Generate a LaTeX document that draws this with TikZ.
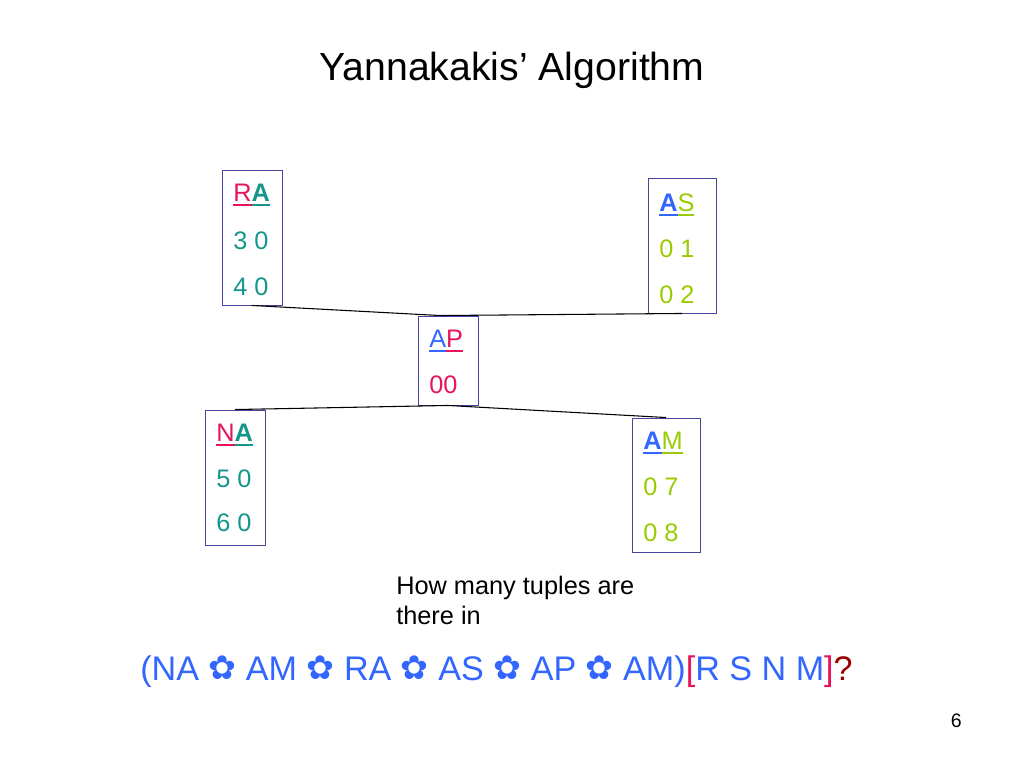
\documentclass[tikz,border=0pt]{standalone}
\usepackage{fontspec}
\setmainfont{Liberation Sans}
\newfontfamily\symfont{DejaVu Sans}
\usetikzlibrary{calc}
\newsavebox\ulbox
\newcommand\myul[1]{\sbox\ulbox{#1}\rlap{\rule[-3.5pt]{\wd\ulbox}{1.4pt}}\usebox\ulbox}
\definecolor{cpink}{RGB}{230,20,90}
\definecolor{cteal}{RGB}{20,150,140}
\definecolor{cblue}{RGB}{51,102,255}
\definecolor{cgreen}{RGB}{153,204,0}
\definecolor{cdred}{RGB}{153,0,0}
\definecolor{cbox}{RGB}{70,70,160}
\newcommand\jn{\raisebox{0.5pt}{\symfont\fontsize{25}{28}\selectfont ✿}}
\tikzset{
  relbox/.style={draw=cbox, line width=0.7pt, rectangle, inner sep=0pt},
  txt/.style={anchor=base west, inner sep=0pt, font=\fontsize{19}{23}\selectfont},
  edge/.style={draw=black, line width=0.8pt}
}
\begin{document}
\begin{tikzpicture}[x=0.75pt,y=-0.75pt]
\path[use as bounding box] (0,0) rectangle (1024,768);
% title
\node[anchor=base, inner sep=0pt, font=\fontsize{29.4}{35}\selectfont] (title) at (512,80) {Yannakakis’ Algorithm};
% boxes
\node[relbox, minimum width=60*0.75pt, minimum height=135*0.75pt] (ra) at (252,237.5) {};
\node[relbox, minimum width=68*0.75pt, minimum height=135*0.75pt] (as) at (682,245.5) {};
\node[relbox, minimum width=60*0.75pt, minimum height=89*0.75pt] (ap) at (448,360.5) {};
\node[relbox, minimum width=60*0.75pt, minimum height=135*0.75pt] (na) at (235,477.5) {};
\node[relbox, minimum width=68*0.75pt, minimum height=134*0.75pt] (am) at (666,485) {};
% edges
\draw[edge] (ra.south) -- ($(ap.north)+(-8,0)$);
\draw[edge] (as.south) -- ($(ap.north)+(-8,0)$);
\draw[edge] (na.north) -- (ap.south);
\draw[edge] (am.north) -- (ap.south);
% RA
\node[txt] (raH) at (233,201) {{\color{cpink}\myul{R}}{\color{cteal}\myul{\textbf{A}}}};
\node[txt, text=cteal] (ra1) at (233,249) {3 0};
\node[txt, text=cteal] (ra2) at (233,295) {4 0};
% AS
\node[txt] (asH) at (659,211) {{\color{cblue}\myul{\textbf{A}}}{\color{cgreen}\myul{S}}};
\node[txt, text=cgreen] (as1) at (659,257) {0 1};
\node[txt, text=cgreen] (as2) at (659,303) {0 2};
% AP
\node[txt] (apH) at (429,347) {{\color{cblue}\myul{A}}{\color{cpink}\myul{P}}};
\node[txt, text=cpink] (ap1) at (429,393) {00};
% NA
\node[txt] (naH) at (216,441) {{\color{cpink}\myul{N}}{\color{cteal}\myul{\textbf{A}}}};
\node[txt, text=cteal] (na1) at (216,487) {5 0};
\node[txt, text=cteal] (na2) at (216,531) {6 0};
% AM
\node[txt] (amH) at (643,449) {{\color{cblue}\myul{\textbf{A}}}{\color{cgreen}\myul{M}}};
\node[txt, text=cgreen] (am1) at (643,495) {0 7};
\node[txt, text=cgreen] (am2) at (643,541) {0 8};
% caption
\node[txt] (cap1) at (396,594) {How many tuples are};
\node[txt] (cap2) at (396,624) {there in};
% formula
\node[anchor=base west, inner sep=0pt, font=\fontsize{25.6}{30}\selectfont, text=cblue] (formula) at (140,680)
  {(NA \jn{} AM \jn{} RA \jn{} AS \jn{} AP \jn{} AM){\color{cpink}[}R S N M{\color{cpink}]}{\color{cdred}?}};
% page number
\node[anchor=base east, inner sep=0pt, font=\fontsize{14.6}{18}\selectfont] (pg) at (962,727) {6};
\end{tikzpicture}
\end{document}
